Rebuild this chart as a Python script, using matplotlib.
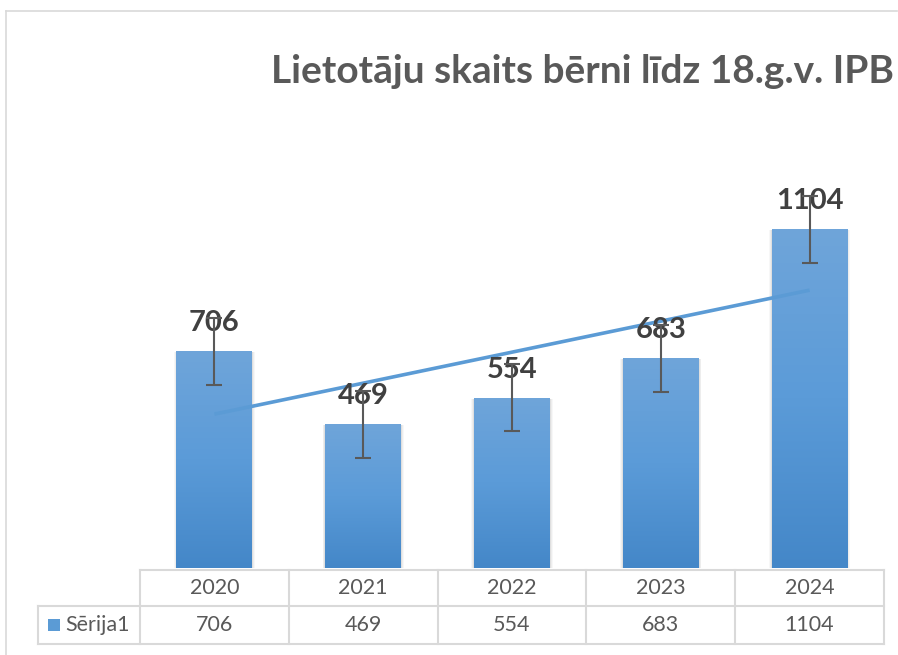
import numpy as np
import matplotlib
matplotlib.use("Agg")
import matplotlib.pyplot as plt
from matplotlib.transforms import blended_transform_factory
from matplotlib.patches import Rectangle
from matplotlib.lines import Line2D
from matplotlib.colors import LinearSegmentedColormap

# ---- data ----
years = ["2020", "2021", "2022", "2023", "2024"]
values = [706, 469, 554, 683, 1104]
series_name = "Sērija1"
title = "Lietotāju skaits bērni līdz 18.g.v. IPB"

W, H = 898, 655
fig = plt.figure(figsize=(W / 100, H / 100), dpi=100)
fig.patch.set_facecolor("white")

def fy(py):
    return 1 - py / H

def fx(px):
    return px / W

ax_left, ax_right, ax_top, ax_bottom = 140, 884, 130, 568
ax = fig.add_axes([fx(ax_left), fy(ax_bottom), fx(ax_right - ax_left), (ax_bottom - ax_top) / H])
ax.axis("off")

FONT = ["Lato", "DejaVu Sans"]
x = np.arange(len(years))
vals = np.array(values, dtype=float)
bw = 0.51

# shadow + gradient bars
grad = np.linspace(0, 1, 256).reshape(-1, 1)
cmap = LinearSegmentedColormap.from_list("g", ["#4487c8", "#5b9bd8", "#6fa5da"])
bars = ax.bar(x, vals, width=bw, color="none", zorder=2)
for b in bars:
    x0, w, h = b.get_x(), b.get_width(), b.get_height()
    for k, a in zip([0.03, 0.02, 0.01], [0.06, 0.08, 0.12]):
        ax.add_patch(Rectangle((x0 - k * 0.6, -8), w + k * 1.2, h + 6, facecolor="#808080",
                               edgecolor="none", alpha=a, zorder=1))
    im = ax.imshow(grad, extent=(x0, x0 + w, 0, h), origin="lower", aspect="auto",
                   cmap=cmap, zorder=2)
    im.set_clip_path(b)
ax.set_xlim(-0.5, len(years) - 0.5)
ax.set_ylim(0, 1427)

# error bars (standard error)
se = vals.std(ddof=1) / np.sqrt(len(vals))
ax.errorbar(x, vals, yerr=se, fmt="none", ecolor="#595959", elinewidth=1.5,
            capsize=6, capthick=1.5, zorder=5)

# linear trendline
coef = np.polyfit(x, vals, 1)
ax.plot(x[[0, -1]], np.polyval(coef, x[[0, -1]]), color="#5b9bd5", lw=2.6,
        solid_capstyle="butt", zorder=4)

# data labels
for xi, v in zip(x, values):
    ax.annotate(str(v), (xi, v), xytext=(0, 11), textcoords="offset points",
                ha="center", va="bottom", fontsize=21, fontweight="bold",
                color="#404040", family=FONT, zorder=4)

# title
fig.text(fx(271), fy(83), title, ha="left", va="baseline", fontsize=28,
         fontweight="bold", color="#595959", family=FONT)

# outer frame
fig.add_artist(Line2D([fx(6), fx(6)], [fy(11), 0], color="#d9d9d9", lw=1.2))
fig.add_artist(Line2D([fx(6), fx(897)], [fy(11), fy(11)], color="#d9d9d9", lw=1.2))

# data table
tr = blended_transform_factory(ax.transData, fig.transFigure)
lc = "#d9d9d9"
r0, r1, r2 = 570, 606, 644
edges = np.arange(len(years) + 1) - 0.5
for e in edges:
    fig.add_artist(Line2D([e, e], [fy(r0), fy(r2)], color=lc, lw=1.5, transform=tr))
fig.add_artist(Line2D([edges[0], edges[-1]], [fy(r0), fy(r0)], color=lc, lw=1.5, transform=tr))
ftr = fig.transFigure
fig.add_artist(Line2D([fx(38), fx(ax_right)], [fy(r1), fy(r1)], color=lc, lw=1.5, transform=ftr))
fig.add_artist(Line2D([fx(38), fx(ax_right)], [fy(r2), fy(r2)], color=lc, lw=1.5, transform=ftr))
fig.add_artist(Line2D([fx(38), fx(38)], [fy(r1), fy(r2)], color=lc, lw=1.5, transform=ftr))
for xi, yr, v in zip(x, years, values):
    fig.text(xi, fy((r0 + r1) / 2), yr, transform=tr, ha="center", va="center",
             fontsize=15.5, color="#595959", family=FONT)
    fig.text(xi, fy((r1 + r2) / 2), str(v), transform=tr, ha="center", va="center",
             fontsize=15.5, color="#595959", family=FONT)
fig.add_artist(Rectangle((fx(48), fy(631)), fx(12), 12 / H, transform=ftr,
                         facecolor="#5b9bd5", edgecolor="none"))
fig.text(fx(65), fy((r1 + r2) / 2), series_name, ha="left", va="center",
         fontsize=15.5, color="#595959", family=FONT)

fig.savefig("out.png", dpi=100, facecolor="white")
